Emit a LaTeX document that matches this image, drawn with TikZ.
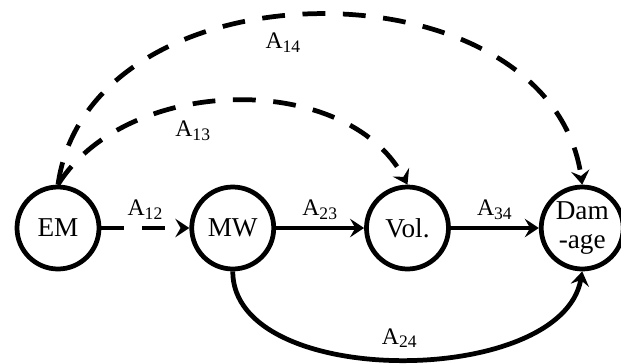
\documentclass[tikz,border=0pt]{standalone}
\usepackage{fontspec}
\setmainfont{Liberation Serif}
\usetikzlibrary{positioning,arrows.meta}
\newcommand{\alab}[1]{A\textsubscript{\fontsize{10}{11}\selectfont #1}}
\tikzset{
    state-node/.style = {draw, circle, line width=2.7pt, minimum size=1.64cm, inner sep=0pt, align=center, font=\fontsize{15.5}{17}\selectfont},
    link/.style = {line width=2.7pt, -{Stealth[length=8pt, width=10.5pt, inset=3pt]}},
    dashed-link/.style = {link, dash pattern=on 13pt off 10pt},
    link-label/.style = {font=\fontsize{13.5}{15}\selectfont},
}

\begin{document}
\begin{tikzpicture}
\useasboundingbox (0,0) rectangle (12.42,7.26);
\node [state-node] (em) at (1.16,2.7) {EM};
\node [state-node, right=1.76cm of em] (mw) {MW};
\node [state-node, right=1.76cm of mw] (vol) {Vol.};
\node [state-node, right=1.76cm of vol] (dam) {Dam\\-age};

\draw [dashed-link] (em) -- node[link-label, above] {\alab{12}} (mw);
\draw [link] (mw) -- node[link-label, above] {\alab{23}} (vol);
\draw [link] (vol) -- node[link-label, above] {\alab{34}} (dam);
\draw [dashed-link] (em.north) to[out=58, in=118, looseness=0.95] node[link-label, pos=0.4, below=5pt] {\alab{13}} (vol.north);
\draw [dashed-link] (em.north) to[out=82, in=98, looseness=1.12] node[link-label, pos=0.45, below=5pt] {\alab{14}} (dam.north);
\draw [link] (mw.south) to[out=-90, in=-100, looseness=0.87] node[link-label, above=2pt] {\alab{24}} (dam.south);
\end{tikzpicture}
\end{document}
